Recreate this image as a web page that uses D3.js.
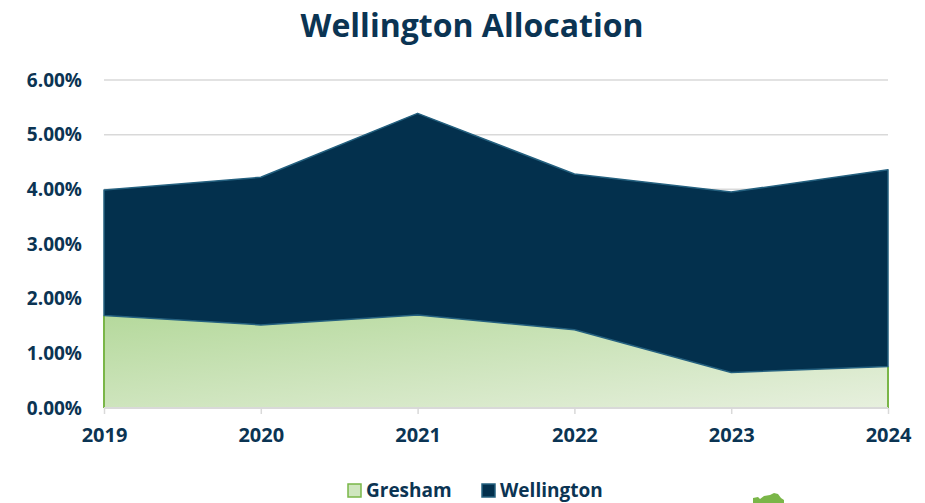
<html>
<head>
<meta charset="utf-8">
<title>Wellington Allocation</title>
<script src="https://d3js.org/d3.v7.min.js"></script>
<style>
  body { margin: 0; background: #fff; }
  text { font-family: "Open Sans", sans-serif; font-weight: 700; fill: #0b3453; }
</style>
</head>
<body>
<script>
const years = ["2019", "2020", "2021", "2022", "2023", "2024"];
const gresham = [1.69, 1.52, 1.70, 1.43, 0.65, 0.76];
const wellington = [2.30, 2.70, 3.69, 2.85, 3.30, 3.60];
const yTicks = [0, 1, 2, 3, 4, 5, 6];
const seriesNames = ["Gresham", "Wellington"];

const W = 925, H = 503;
const margin = {top: 80, right: 37, bottom: 95, left: 104};

const svg = d3.select("body").append("svg").attr("width", W).attr("height", H);

const defs = svg.append("defs");
const grad = defs.append("linearGradient").attr("id", "greenGrad")
  .attr("x1", 0).attr("y1", 0).attr("x2", 1).attr("y2", 1);
grad.append("stop").attr("offset", "0%").attr("stop-color", "#b5d99c");
grad.append("stop").attr("offset", "100%").attr("stop-color", "#e7f0de");

const x = d3.scalePoint().domain(years).range([margin.left, W - margin.right]);
const y = d3.scaleLinear().domain([0, 6]).range([H - margin.bottom, margin.top]);

// gridlines
svg.append("g")
  .selectAll("line").data(yTicks.slice(1)).join("line")
  .attr("x1", margin.left).attr("x2", W - margin.right)
  .attr("y1", d => y(d)).attr("y2", d => y(d))
  .attr("stroke", "#d9d9d9").attr("stroke-width", 1.5);

const rows = years.map((yr, i) => ({year: yr, Gresham: gresham[i], Wellington: wellington[i]}));
const stacked = d3.stack().keys(seriesNames)(rows);

const area = d3.area()
  .x(d => x(d.data.year))
  .y0(d => y(d[0]))
  .y1(d => y(d[1]));

// Gresham area
svg.append("path").datum(stacked[0])
  .attr("d", area).attr("fill", "url(#greenGrad)");
// green side edges
const gEdge = svg.append("g").attr("stroke", "#7ab648").attr("stroke-width", 2);
[stacked[0][0], stacked[0][stacked[0].length - 1]].forEach(d => {
  gEdge.append("line")
    .attr("x1", x(d.data.year)).attr("x2", x(d.data.year))
    .attr("y1", y(d[0])).attr("y2", y(d[1]));
});

// Wellington area
svg.append("path").datum(stacked[1])
  .attr("d", area).attr("fill", "#03304d")
  .attr("stroke", "#24607f").attr("stroke-width", 1.5).attr("stroke-linejoin", "round");

// x axis baseline + ticks
const xAxis = d3.axisBottom(x).tickSize(6).tickPadding(14);
const gx = svg.append("g").attr("transform", `translate(0,${y(0)})`).call(xAxis);
gx.select(".domain").attr("stroke", "#d9d9d9").attr("stroke-width", 2)
  .attr("d", `M${margin.left},0H${W - margin.right}`);
gx.selectAll(".tick line").attr("stroke", "#d9d9d9").attr("stroke-width", 1.5);
gx.selectAll(".tick text").attr("font-size", 20).attr("fill", "#0b3453")
  .attr("font-family", "Open Sans").attr("font-weight", 700);

// y axis labels
const yAxis = d3.axisLeft(y).tickValues(yTicks).tickSize(0).tickPadding(22)
  .tickFormat(d => d3.format(".2f")(d) + "%");
const gy = svg.append("g").attr("transform", `translate(${margin.left},0)`).call(yAxis);
gy.select(".domain").remove();
gy.selectAll(".tick text").attr("font-size", 19).attr("fill", "#0b3453")
  .attr("font-family", "Open Sans").attr("font-weight", 700);

// title
svg.append("text").attr("x", 472).attr("y", 37).attr("text-anchor", "middle")
  .attr("font-size", 32).text("Wellington Allocation");

// legend
const legendItems = [
  {name: "Gresham", x: 347, fill: "#cfe6bf", stroke: "#7ab648"},
  {name: "Wellington", x: 481, fill: "#03304d", stroke: "#24607f"}
];
const lg = svg.append("g");
legendItems.forEach(it => {
  lg.append("rect").attr("x", it.x + 1).attr("y", 484).attr("width", 13).attr("height", 13)
    .attr("fill", it.fill).attr("stroke", it.stroke).attr("stroke-width", 1.5);
  lg.append("text").attr("x", it.x + 19).attr("y", 497).attr("font-size", 19).text(it.name);
});

// cut-off logo hint at the bottom edge
svg.append("path")
  .attr("d", "M753,503 L753,498 L758,497 L760,499 L764,496 L770,495 L774,493 L778,494 L781,498 L784,500 L784,503 Z")
  .attr("fill", "#7ab648");
</script>
</body>
</html>
